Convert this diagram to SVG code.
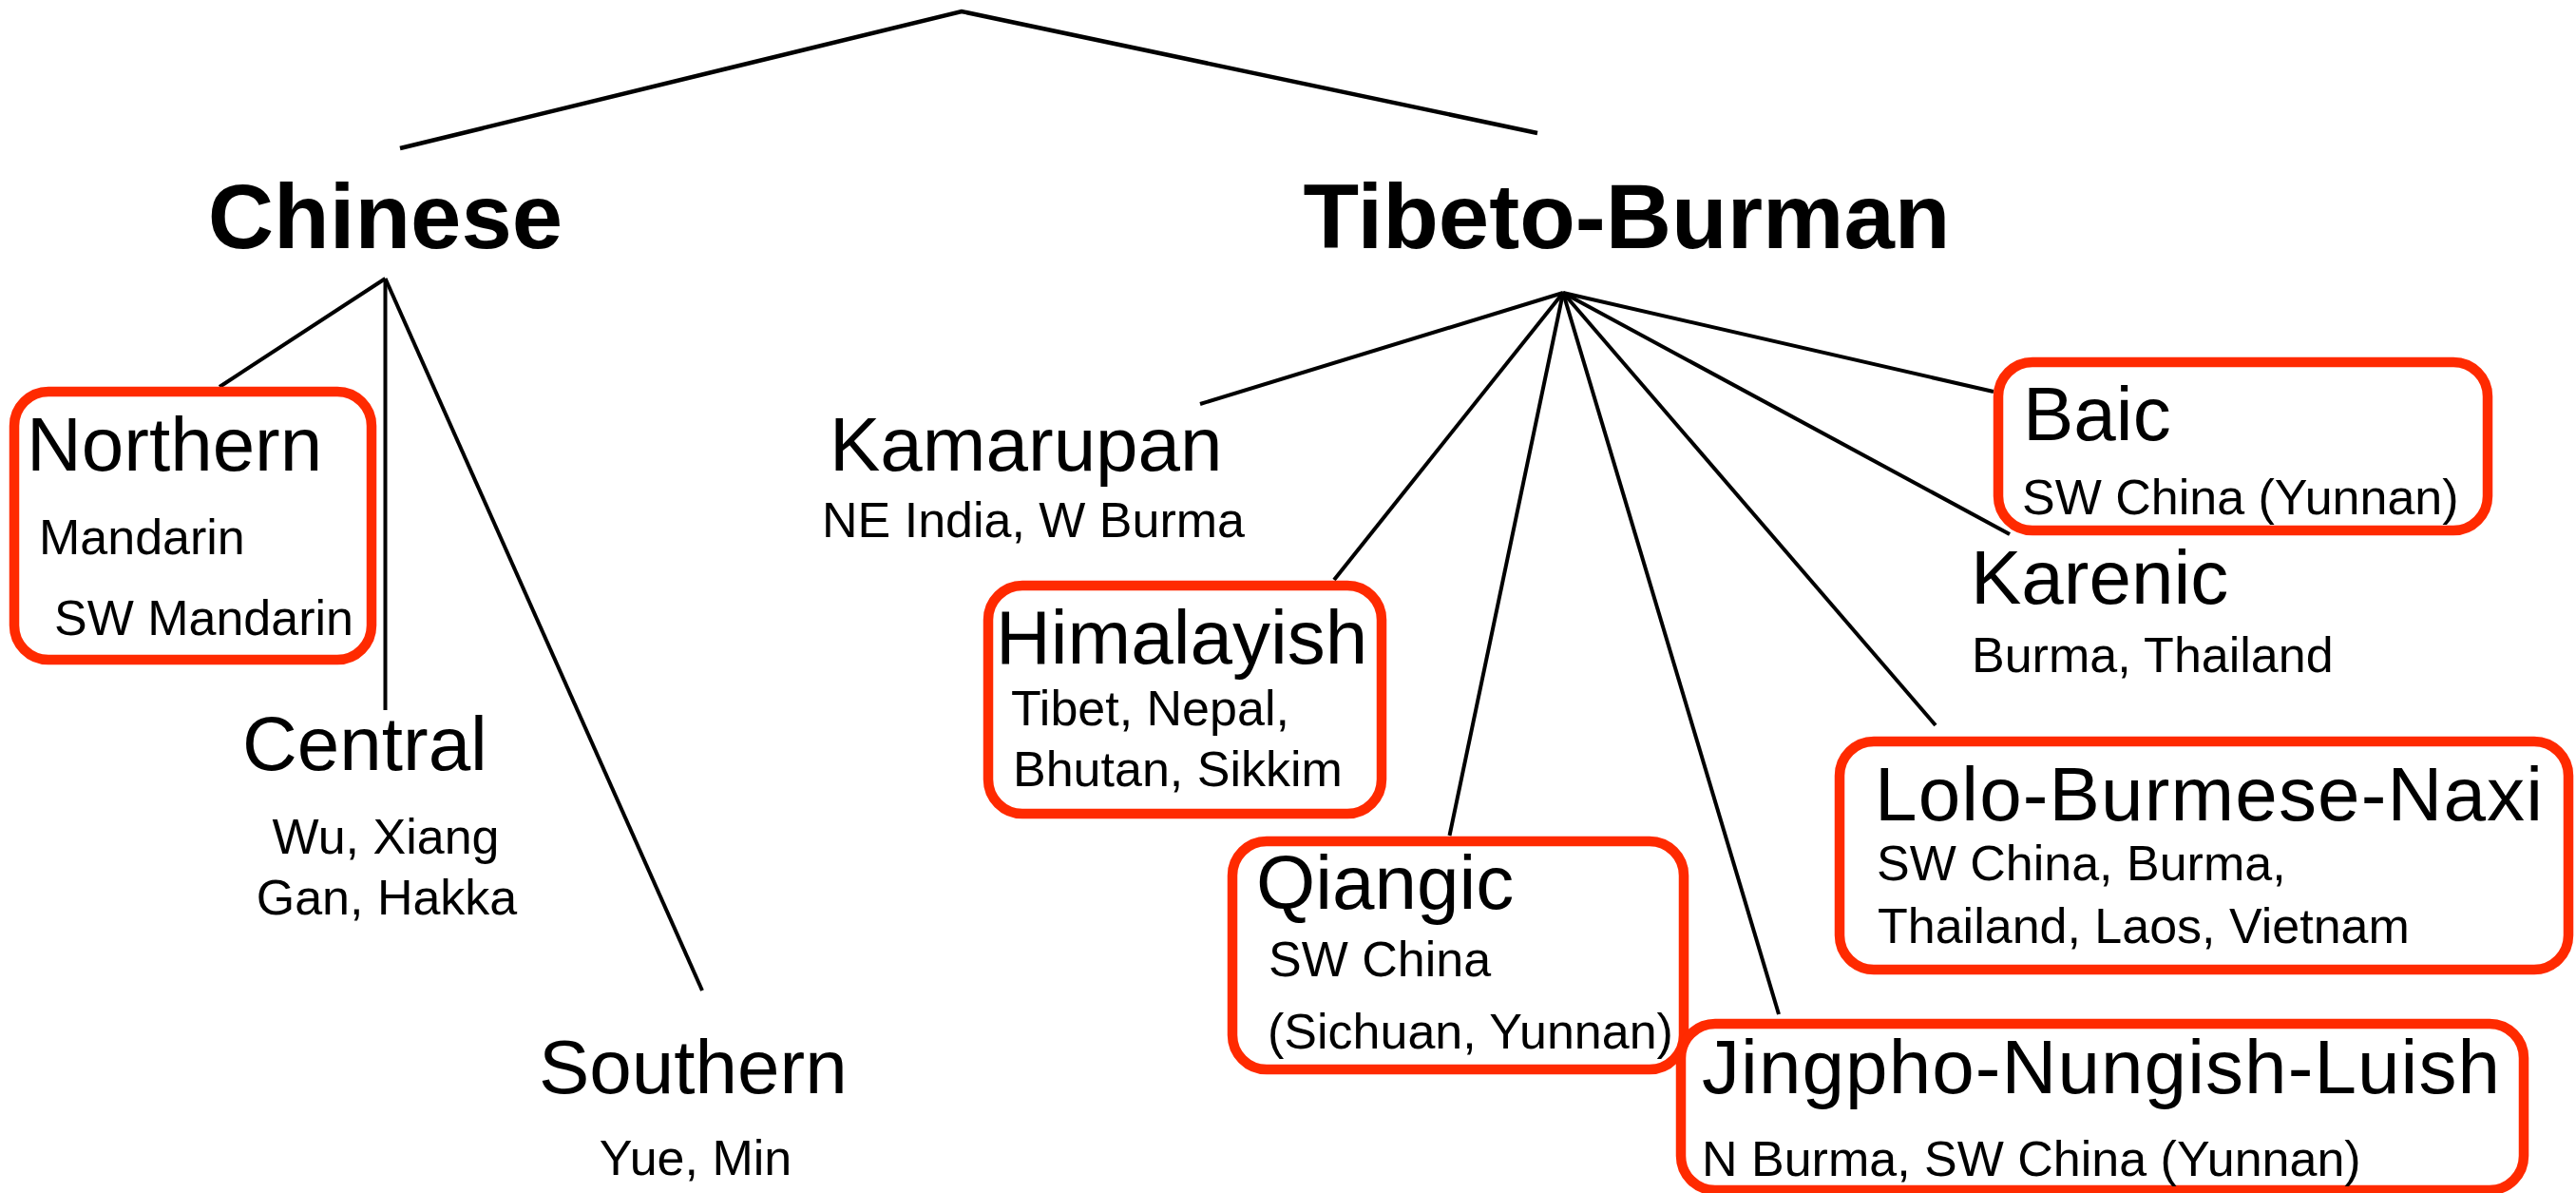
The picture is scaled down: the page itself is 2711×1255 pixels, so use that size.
<svg xmlns="http://www.w3.org/2000/svg" width="2711" height="1255" viewBox="0 0 2711 1255">
<style>
.bg{fill:#fff}
.ln{stroke:#000;stroke-width:4;fill:none;stroke-linecap:butt}
.top{stroke-width:4.5}
.box{fill:none;stroke:#ff2a00;stroke-width:10.5}
.h{font-family:"Liberation Sans",Arial,Helvetica,sans-serif;font-weight:bold;font-size:96px;fill:#000}
.t{font-family:"Liberation Sans",Arial,Helvetica,sans-serif;font-size:80px;fill:#000}
.s{font-family:"Liberation Sans",Arial,Helvetica,sans-serif;font-size:52px;fill:#000}
.m{text-anchor:middle}
</style>
<rect class="bg" x="0" y="0" width="2711" height="1255"/>
<g id="connectors">
<polyline class="ln top" points="421,156 1012,12 1618,140"/>
<line class="ln" x1="405.5" y1="293" x2="231" y2="407"/>
<line class="ln" x1="405.5" y1="293" x2="405.5" y2="747"/>
<line class="ln" x1="405.5" y1="293" x2="739" y2="1042"/>
<line class="ln" x1="1645" y1="308" x2="1263" y2="425"/>
<line class="ln" x1="1645" y1="308" x2="1404" y2="610"/>
<line class="ln" x1="1645" y1="308" x2="1525.5" y2="879"/>
<line class="ln" x1="1645" y1="308" x2="1872" y2="1067"/>
<line class="ln" x1="1645" y1="308" x2="2037" y2="763"/>
<line class="ln" x1="1645" y1="308" x2="2115" y2="562"/>
<line class="ln" x1="1645" y1="308" x2="2098" y2="412"/>
</g>
<g id="chinese"><text class="h m" x="405.5" y="261">Chinese</text></g>
<g id="tibeto-burman"><text class="h m" x="1712" y="261">Tibeto-Burman</text></g>
<g id="northern">
<rect class="box" x="15" y="412" width="376" height="282" rx="36"/>
<text class="t" x="28" y="495">Northern</text>
<text class="s" x="41" y="583">Mandarin</text>
<text class="s" x="57" y="668">SW Mandarin</text>
</g>
<g id="central">
<text class="t" x="255" y="810">Central</text>
<text class="s m" x="406" y="898">Wu, Xiang</text>
<text class="s m" x="407" y="962">Gan, Hakka</text>
</g>
<g id="southern">
<text class="t" x="567" y="1150">Southern</text>
<text class="s m" x="732" y="1236">Yue, Min</text>
</g>
<g id="kamarupan">
<text class="t" x="873" y="495">Kamarupan</text>
<text class="s" x="865" y="565">NE India, W Burma</text>
</g>
<g id="himalayish">
<rect class="box" x="1040" y="616" width="414" height="240" rx="36"/>
<text class="t" x="1048" y="698">Himalayish</text>
<text class="s" x="1064" y="763">Tibet, Nepal,</text>
<text class="s" x="1066" y="827">Bhutan, Sikkim</text>
</g>
<g id="qiangic">
<rect class="box" x="1297" y="885" width="475" height="240" rx="36"/>
<text class="t" x="1322" y="956">Qiangic</text>
<text class="s" x="1335" y="1027">SW China</text>
<text class="s" x="1334" y="1103">(Sichuan, Yunnan)</text>
</g>
<g id="jingpho">
<rect class="box" x="1769" y="1077" width="887" height="175" rx="36"/>
<text class="t" x="1791" y="1150" textLength="840">Jingpho-Nungish-Luish</text>
<text class="s" x="1791" y="1237">N Burma, SW China (Yunnan)</text>
</g>
<g id="lolo">
<rect class="box" x="1936" y="780" width="767" height="240" rx="36"/>
<text class="t" x="1973" y="863" textLength="703">Lolo-Burmese-Naxi</text>
<text class="s" x="1975" y="926">SW China, Burma,</text>
<text class="s" x="1976" y="992">Thailand, Laos, Vietnam</text>
</g>
<g id="baic">
<rect class="box" x="2103" y="381" width="515" height="177" rx="36"/>
<text class="t" x="2129" y="463">Baic</text>
<text class="s" x="2128" y="541">SW China (Yunnan)</text>
</g>
<g id="karenic">
<text class="t" x="2074" y="635">Karenic</text>
<text class="s" x="2075" y="707">Burma, Thailand</text>
</g>
</svg>
